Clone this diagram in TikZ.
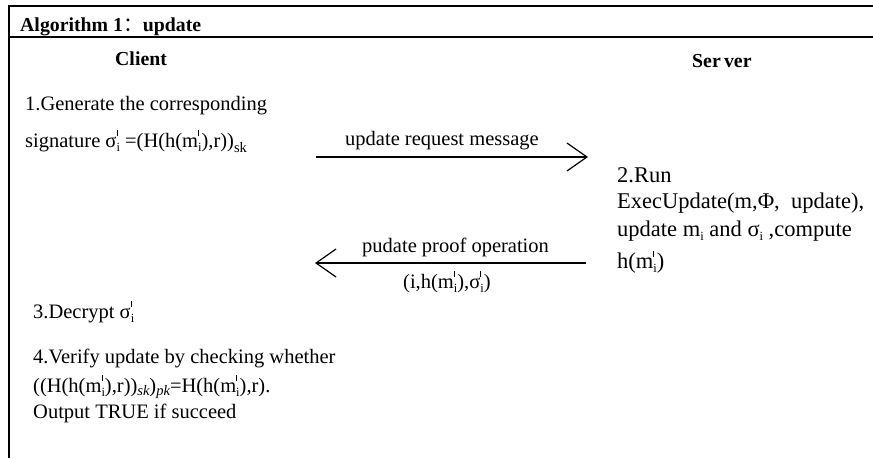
\documentclass[tikz,border=0pt]{standalone}
\usepackage{fontspec}
\setmainfont{Liberation Serif}
\newfontfamily\cjk{Noto Sans CJK SC}
\usetikzlibrary{arrows.meta}
\newcommand\mytick{\rule{0.6pt}{5.5pt}}
\newcommand\subsz{\fontsize{12.5}{12.5}\selectfont}
% base with stacked prime and subscript i
\newcommand\PI[1]{#1\makebox[0pt][l]{\raisebox{11.5pt}{\mytick}}\raisebox{-4pt}{\subsz i}}
% base with subscript i
\newcommand\SI[1]{#1\raisebox{-4pt}{\subsz i}}
\newcommand\SB[1]{\raisebox{-5pt}{\fontsize{14.5}{14.5}\selectfont #1}}
\newcommand\SBI[1]{\raisebox{-3pt}{\fontsize{14.5}{14.5}\selectfont\itshape #1}}
\begin{document}
\begin{tikzpicture}[x=1pt,y=-1pt,
  txt/.style={anchor=base west,inner sep=0pt,font=\fontsize{20.5}{23}\selectfont},
  srv/.style={anchor=base west,inner sep=0pt,font=\fontsize{22.5}{25}\selectfont},
  hd/.style={anchor=base west,inner sep=0pt,font=\fontsize{19.8}{22}\selectfont\bfseries},
  frame/.style={line width=2pt},
  msg/.style={line width=1.2pt,-{Straight Barb[length=20pt,width=28pt,line width=1.2pt]}}]
\useasboundingbox (0,0) rectangle (873,458);
\fill[white] (0,0) rectangle (873,458);
% frame
\draw[frame] (9,6) -- (873,6);
\draw[frame] (9,37) -- (873,37);
\draw[line width=1.3pt] (9,5) -- (9,458);
% headings
\node[hd] (title) at (20,31) {Algorithm 1{\cjk\mdseries ：}update};
\node[hd] (client) at (115,65) {Client};
\node[hd] (server) at (692,67) {Ser\,ver};
% client step 1
\node[txt] (c1a) at (25,110) {1.Generate the corresponding};
\node[txt] (c1b) at (25,147) {signature \PI{σ} =(H(h(\PI{m}),r))\SB{sk}};
% arrow 1
\coordinate (a1s) at (316,157);
\coordinate (a1e) at (588,157);
\draw[msg] (a1s) -- (a1e);
\node[txt] (l1) at (345,145) {update request message};
% server
\node[srv] (s1) at (617,182) {2.Run};
\node[srv] (s2) at (617,208) {ExecUpdate(m,Φ,\ \ update),};
\node[srv] (s3) at (617,236) {update \SI{m}\ and \SI{σ} ,compute};
\node[srv] (s4) at (617,268) {h(\PI{m})};
% arrow 2
\coordinate (a2s) at (586,263);
\coordinate (a2e) at (315,263);
\draw[msg] (a2s) -- (a2e);
\node[txt] (l2) at (362,252) {pudate proof operation};
\node[txt] (l3) at (403,288) {(i,h(\PI{m}),\PI{σ})};
% client steps 3,4
\node[txt] (c3) at (33,318) {3.Decrypt \PI{σ}};
\node[txt] (c4a) at (33,363) {4.Verify update by checking whether};
\node[txt] (c4b) at (33,392) {((H(h(\PI{m}),r))\SBI{sk})\SBI{pk}=H(h(\PI{m}),r).};
\node[txt] (c4c) at (33,418) {Output TRUE if succeed};
\end{tikzpicture}
\end{document}
